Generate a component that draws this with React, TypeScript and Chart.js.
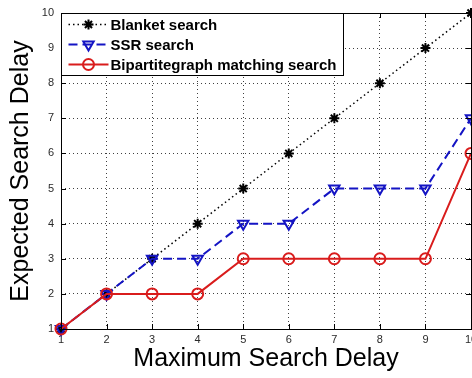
import React, { useEffect, useRef } from "react";
import { Chart, registerables } from "chart.js";
import { drawPoint } from "chart.js/helpers";

Chart.register(...registerables);

const xValues = [1, 2, 3, 4, 5, 6, 7, 8, 9, 10];
const blanketSearch = [1, 2, 3, 4, 5, 6, 7, 8, 9, 10];
const ssrSearch = [1, 2, 3, 3, 4, 4, 5, 5, 5, 7];
const bipartiteSearch = [1, 2, 2, 2, 3, 3, 3, 3, 3, 6];
const seriesLabels = ["Blanket search", "SSR search", "Bipartitegraph matching search"];
const xTitle = "Maximum Search Delay";
const yTitle = "Expected Search Delay";
const axisMin = 1;
const axisMax = 10;

const FONT = "Arial, 'Liberation Sans', Helvetica, sans-serif";
const BLUE = "#1414c4";
const RED = "#d91c1c";

const framePlugin = {
  id: "frame",
  afterDraw(chart: any) {
    const { ctx, chartArea, scales } = chart;
    const { left, right, top, bottom } = chartArea;
    ctx.save();
    ctx.strokeStyle = "#000";
    ctx.lineWidth = 1;
    ctx.setLineDash([]);
    const tl = 5;
    ctx.beginPath();
    scales.x.ticks.forEach((t: any) => {
      const px = Math.round(scales.x.getPixelForValue(t.value)) + 0.5;
      ctx.moveTo(px, bottom);
      ctx.lineTo(px, bottom - tl);
      ctx.moveTo(px, top);
      ctx.lineTo(px, top + tl);
    });
    scales.y.ticks.forEach((t: any) => {
      const py = Math.round(scales.y.getPixelForValue(t.value)) + 0.5;
      ctx.moveTo(left, py);
      ctx.lineTo(left + tl, py);
      ctx.moveTo(right, py);
      ctx.lineTo(right - tl, py);
    });
    ctx.stroke();
    ctx.strokeRect(Math.round(left) + 0.5, Math.round(top) + 0.5, Math.round(right - left), Math.round(bottom - top));

    // legend box (MATLAB style, inside the axes, top-left)
    const lx = Math.round(left) + 0.5;
    const ly = Math.round(top) + 0.5;
    const lw = 282;
    const lh = 62;
    ctx.fillStyle = "#fff";
    ctx.fillRect(lx, ly, lw, lh);
    ctx.strokeStyle = "#000";
    ctx.lineWidth = 1;
    ctx.strokeRect(lx, ly, lw, lh);
    chart.data.datasets.forEach((ds: any, i: number) => {
      const y = ly + 11 + i * 20;
      ctx.setLineDash(ds.borderDash || []);
      ctx.strokeStyle = ds.borderColor;
      ctx.lineWidth = ds.borderWidth;
      ctx.beginPath();
      ctx.moveTo(lx + 7, y);
      ctx.lineTo(lx + 47, y);
      ctx.stroke();
      ctx.setLineDash([]);
      ctx.fillStyle = ds.pointBackgroundColor;
      ctx.strokeStyle = ds.pointBorderColor;
      ctx.lineWidth = ds.pointBorderWidth;
      drawPoint(
        ctx,
        {
          pointStyle: ds.pointStyle,
          rotation: ds.pointRotation || 0,
          radius: ds.pointRadius,
          borderWidth: ds.pointBorderWidth,
        } as any,
        lx + 27,
        y
      );
      ctx.fillStyle = "#000";
      ctx.font = `bold 15px ${FONT}`;
      ctx.textBaseline = "middle";
      ctx.textAlign = "left";
      ctx.fillText(ds.label, lx + 49, y + 1);
    });
    ctx.restore();
  },
};

export default function App() {
  const canvasRef = useRef<HTMLCanvasElement | null>(null);

  useEffect(() => {
    document.body.style.margin = "0";
    const canvas = canvasRef.current;
    if (!canvas) return;
    const toPoints = (ys: number[]) => xValues.map((x, i) => ({ x, y: ys[i] }));
    const chart = new Chart(canvas, {
      type: "line",
      data: {
        datasets: [
          {
            label: seriesLabels[0],
            data: toPoints(blanketSearch),
            borderColor: "#000",
            borderWidth: 1.5,
            borderDash: [1.5, 3],
            pointStyle: "star",
            pointRadius: 5,
            pointBorderWidth: 2,
            pointBorderColor: "#000",
            pointBackgroundColor: "#000",
            order: 3,
          } as any,
          {
            label: seriesLabels[1],
            data: toPoints(ssrSearch),
            borderColor: BLUE,
            borderWidth: 2,
            borderDash: [9, 5],
            pointStyle: "triangle",
            pointRotation: 180,
            pointRadius: 6,
            pointBorderWidth: 2,
            pointBorderColor: BLUE,
            pointBackgroundColor: "rgba(0,0,0,0)",
            order: 2,
          } as any,
          {
            label: seriesLabels[2],
            data: toPoints(bipartiteSearch),
            borderColor: RED,
            borderWidth: 2,
            pointStyle: "circle",
            pointRadius: 5.5,
            pointBorderWidth: 2,
            pointBorderColor: RED,
            pointBackgroundColor: "rgba(0,0,0,0)",
            order: 1,
          } as any,
        ],
      },
      options: {
        responsive: false,
        animation: false,
        clip: false as any,
        layout: { autoPadding: false, padding: { top: 13, right: 1, left: 0, bottom: 0 } },
        plugins: {
          legend: { display: false },
          tooltip: { enabled: false },
        },
        elements: { line: { tension: 0 } },
        scales: {
          x: {
            type: "linear",
            min: axisMin,
            max: axisMax,
            afterFit: (s: any) => {
              s.height = 49;
              s.paddingLeft = 0;
              s.paddingRight = 0;
            },
            ticks: {
              stepSize: 1,
              padding: 4,
              color: "#2a2a2a",
              font: { family: FONT, size: 11 },
              maxRotation: 0,
              autoSkip: false,
            },
            grid: { drawTicks: false, color: "rgba(0,0,0,0.75)", lineWidth: 1 },
            border: { display: false, dash: [1, 3] },
            title: {
              display: true,
              text: xTitle,
              color: "#000",
              font: { family: FONT, size: 25 },
              padding: { top: 0, bottom: 4 },
            },
          },
          y: {
            type: "linear",
            min: axisMin,
            max: axisMax,
            afterFit: (s: any) => {
              s.width = 61;
              s.paddingTop = 0;
              s.paddingBottom = 0;
            },
            ticks: {
              stepSize: 1,
              padding: 7,
              color: "#2a2a2a",
              font: { family: FONT, size: 11 },
              autoSkip: false,
            },
            grid: { drawTicks: false, color: "rgba(0,0,0,0.75)", lineWidth: 1 },
            border: { display: false, dash: [1, 3] },
            title: {
              display: true,
              text: yTitle,
              color: "#000",
              font: { family: FONT, size: 25 },
              padding: { top: 6, bottom: 0 },
            },
          },
        },
      },
      plugins: [framePlugin],
    });
    return () => chart.destroy();
  }, []);

  return (
    <canvas
      ref={canvasRef}
      width={472}
      height={378}
      style={{ position: "fixed", left: 0, top: 0, width: 472, height: 378, background: "#fff" }}
    />
  );
}
